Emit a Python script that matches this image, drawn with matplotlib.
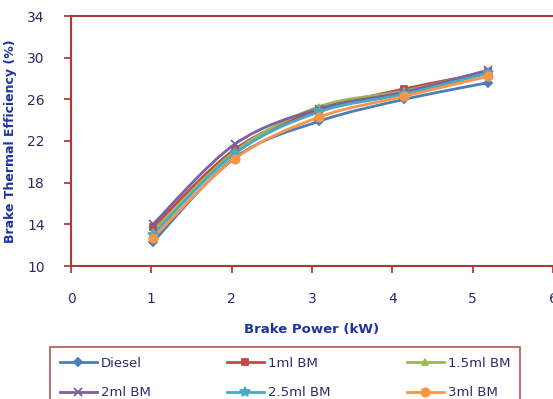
import numpy as np
from matplotlib import pyplot as plt
from matplotlib.path import Path
from matplotlib.patches import PathPatch
from matplotlib.lines import Line2D

# Brake power (kW) and brake thermal efficiency (%) per fuel blend
power = [1.02, 2.04, 3.09, 4.15, 5.19]
labels = ["Diesel", "1ml BM", "1.5ml BM", "2ml BM", "2.5ml BM", "3ml BM"]
diesel = [12.3, 20.4, 23.9, 26.0, 27.6]
bm_1 = [13.7, 21.2, 25.0, 27.0, 28.6]
bm_15 = [13.3, 21.0, 25.3, 26.8, 28.7]
bm_2 = [14.0, 21.7, 25.1, 26.7, 28.8]
bm_25 = [13.0, 20.8, 24.8, 26.5, 28.5]
bm_3 = [12.7, 20.3, 24.3, 26.3, 28.2]
series = [diesel, bm_1, bm_15, bm_2, bm_25, bm_3]

colors = ["#4A7EBB", "#BE4B48", "#98B954", "#7D60A0", "#46AAC5", "#F79646"]
markers = ["D", "s", "^", "x", "*", "o"]
msizes = [4, 5, 5, 6, 7, 6]

spine_col = "#B03A3A"
tick_col = "#2B2B6B"
lab_col = "#1F33A0"


def smooth_path(xs, ys):
    # Excel-like smoothed line: Catmull-Rom segments as cubic Beziers
    pts = list(zip(xs, ys))
    verts = [pts[0]]
    codes = [Path.MOVETO]
    n = len(pts)
    for i in range(n - 1):
        p0 = pts[i - 1] if i > 0 else pts[i]
        p1 = pts[i]
        p2 = pts[i + 1]
        p3 = pts[i + 2] if i + 2 < n else pts[i + 1]
        c1 = (p1[0] + (p2[0] - p0[0]) / 6, p1[1] + (p2[1] - p0[1]) / 6)
        c2 = (p2[0] - (p3[0] - p1[0]) / 6, p2[1] - (p3[1] - p1[1]) / 6)
        verts += [c1, c2, p2]
        codes += [Path.CURVE4] * 3
    return Path(verts, codes)


fig = plt.figure(figsize=(5.53, 3.99), dpi=100)
ax = fig.add_axes([71 / 553, 133 / 399, 482 / 553, 250 / 399])

handles = []
for s, c, m, ms, lab in zip(series, colors, markers, msizes, labels):
    ax.add_patch(PathPatch(smooth_path(power, s), facecolor="none",
                           edgecolor=c, lw=2.0, zorder=2))
    ax.plot(power, s, ls="none", marker=m, color=c, ms=ms, mew=1.3, zorder=3)
    handles.append(Line2D([], [], color=c, lw=2.0, marker=m, ms=ms, mew=1.3))

ax.set_xlim(0, 6)
ax.set_ylim(10, 34)
ax.set_xticks([0, 1, 2, 3, 4, 5, 6])
ax.set_yticks([10, 14, 18, 22, 26, 30, 34])

for sp in ["left", "bottom", "top"]:
    ax.spines[sp].set_color(spine_col)
    ax.spines[sp].set_linewidth(1.5)
ax.spines["right"].set_visible(False)
ax.tick_params(axis="x", direction="out", length=5, width=1.3,
               color=spine_col, labelcolor=tick_col, labelsize=10, pad=14)
ax.tick_params(axis="y", direction="out", length=5, width=1.3,
               color=spine_col, labelcolor=tick_col, labelsize=10, pad=14)

ax.set_xlabel("Brake Power (kW)", color=lab_col, fontsize=9.5,
              fontweight="bold", labelpad=12)
ax.set_ylabel("Brake Thermal Efficiency (%)", color=lab_col, fontsize=9,
              fontweight="bold", labelpad=7)

# legend filled row by row like the original: reorder for column-major fill
order = [0, 3, 1, 4, 2, 5]
leg = fig.legend([handles[i] for i in order], [labels[i] for i in order],
                 loc="upper left", ncol=3,
                 bbox_to_anchor=(50 / 553, 0, 470 / 553, 1 - 347 / 399),
                 mode="expand", frameon=True, fancybox=False, fontsize=9.5,
                 handlelength=2.8, borderpad=0.75, labelspacing=1.25,
                 handletextpad=0.3, borderaxespad=0, labelcolor=tick_col)
leg.get_frame().set_edgecolor(spine_col)
leg.get_frame().set_linewidth(1.3)

fig.savefig("out.png", dpi=100)
